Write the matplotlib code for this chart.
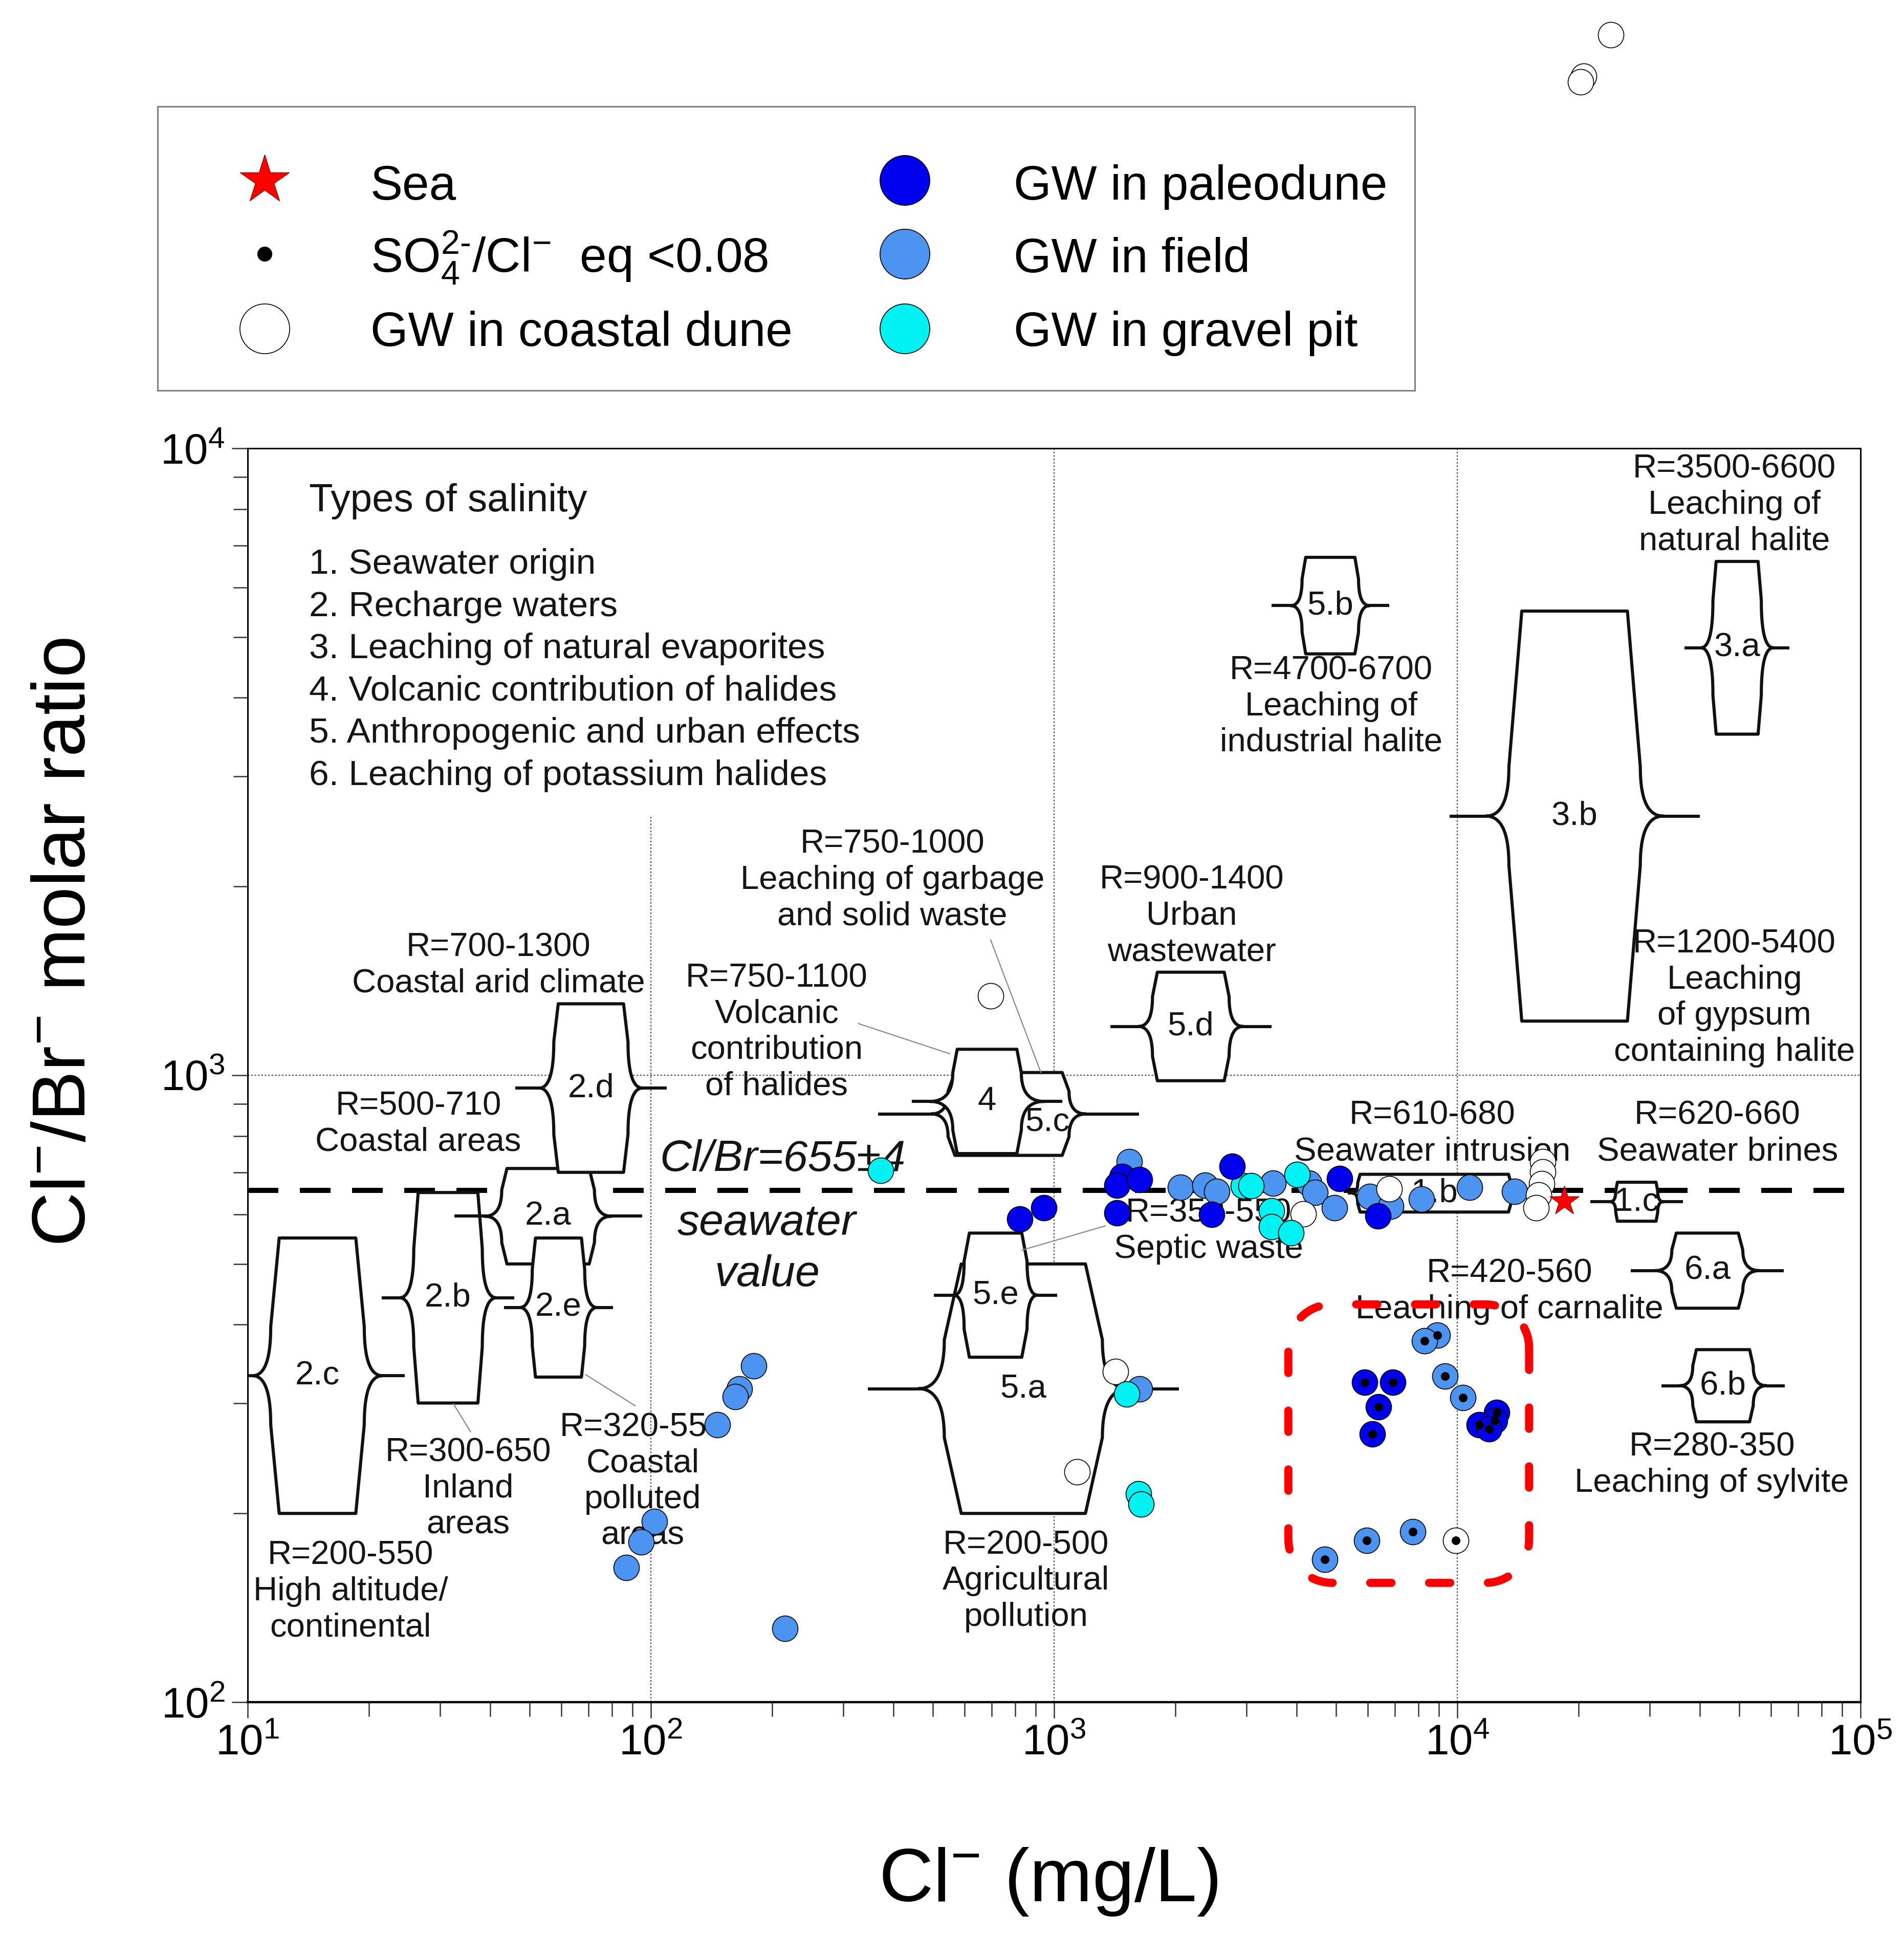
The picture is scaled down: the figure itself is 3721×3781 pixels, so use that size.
import numpy as np
import matplotlib
matplotlib.use('Agg')
import matplotlib.pyplot as plt
from matplotlib.patches import Polygon
from matplotlib.lines import Line2D
from matplotlib.ticker import FuncFormatter, NullFormatter, LogLocator

plt.rcParams['font.family'] = ['Liberation Sans', 'DejaVu Sans']
plt.rcParams['mathtext.fontset'] = 'custom'
plt.rcParams['mathtext.rm'] = 'Liberation Sans'
plt.rcParams['mathtext.it'] = 'Liberation Sans:italic'
plt.rcParams['mathtext.bf'] = 'Liberation Sans:bold'

# ---------------- data ----------------
sea_cl = [18400]
sea_r = [630]

coastal_cl = [24000, 20600, 20200, 696, 4150, 6780, 16300, 16300, 16200, 15900, 15700, 1420, 1140, 9910]
coastal_r = [45700, 39200, 38400, 1337, 601, 659, 728, 701, 671, 644, 615, 337, 233, 181]
coastal_low = [0, 0, 0, 0, 0, 0, 0, 0, 0, 0, 0, 0, 0, 1]

field_cl = [180, 166, 162, 146, 102, 94.6, 86.9, 215, 1538, 2056, 2367, 2533, 3490, 4285, 4437,
            4955, 6068, 6841, 8147, 10720, 13870, 8930, 8300, 9330, 10330, 4690, 5960, 7760, 1629]
field_r = [344, 316, 307, 277, 194, 180, 164, 131, 728, 662, 668, 653, 673, 672, 650,
           615, 641, 618, 635, 662, 653, 385, 377, 331, 306, 169, 181, 187, 316]
field_low = [0] * 21 + [1] * 7 + [0]

gravel_cl = [371, 2951, 3076, 4008, 3459, 3459, 3871, 1514, 1619, 1643]
gravel_r = [705, 666, 666, 695, 608, 573, 561, 310, 215, 207]

paleo_cl = [822, 944, 1476, 1432, 1629, 1432, 2767, 2460, 5105, 6353,
            5890, 6920, 6380, 6160, 12530, 12390, 11350, 11990]
paleo_r = [590, 615, 689, 668, 681, 603, 716, 600, 684, 596,
           324, 324, 296, 268, 290, 281, 277, 273]
paleo_low = [0] * 10 + [1] * 8

# salinity-type boxes: Cl centre (mg/L), half widths (decades), Cl/Br range
box_names = ['2.c', '2.b', '2.a', '2.e', '2.d', '5.c', '4', '5.a', '5.e', '5.d',
             '5.b', '3.b', '3.a', '1.b', '1.c', '6.a', '6.b']
box_cl = [14.9, 31.4, 55.6, 59.0, 71.0, 771, 682, 839, 716, 2183,
          4842, 19540, 49430, 8770, 27860, 41690, 45600]
box_a = [0.095, 0.074, 0.102, 0.057, 0.081, 0.133, 0.074, 0.154, 0.065, 0.083,
         0.061, 0.131, 0.052, 0.184, 0.048, 0.077, 0.066]
box_b = [0.116, 0.085, 0.115, 0.065, 0.092, 0.150, 0.085, 0.196, 0.078, 0.095,
         0.070, 0.163, 0.060, 0.190, 0.052, 0.088, 0.075]
box_e = [0.161, 0.120, 0.157, 0.096, 0.128, 0.192, 0.142, 0.260, 0.104, 0.130,
         0.098, 0.220, 0.090, 0.203, 0.066, 0.130, 0.108]
box_f = [0.216, 0.164, 0.233, 0.135, 0.188, 0.323, 0.186, 0.386, 0.153, 0.200,
         0.146, 0.310, 0.130, 0.215, 0.115, 0.190, 0.153]
box_lo = [200, 300, 500, 330, 700, 745, 750, 200, 355, 980, 4700, 1220, 3500, 605, 585, 425, 280]
box_hi = [550, 650, 710, 550, 1300, 1010, 1100, 500, 560, 1460, 6700, 5500, 6600, 695, 675, 560, 365]
box_label_at = {'5.c': (964, 842)}

ann_text = ['R=700-1300\nCoastal arid climate', 'R=500-710\nCoastal areas',
            'R=750-1000\nLeaching of garbage\nand solid waste',
            'R=750-1100\nVolcanic\ncontribution\nof halides',
            'R=900-1400\nUrban\nwastewater', 'R=4700-6700\nLeaching of\nindustrial halite',
            'R=3500-6600\nLeaching of\nnatural halite',
            'R=1200-5400\nLeaching\nof gypsum\ncontaining halite',
            'R=610-680\nSeawater intrusion', 'R=620-660\nSeawater brines',
            'R=420-560\nLeaching of carnalite', 'R=280-350\nLeaching of sylvite',
            'R=350-550\nSeptic waste', 'R=320-550\nCoastal\npolluted\nareas',
            'R=300-650\nInland\nareas', 'R=200-550\nHigh altitude/\ncontinental',
            'R=200-500\nAgricultural\npollution']
ann_cl = [41.9, 26.5, 397, 205, 2193, 4864, 48660, 48660, 8670, 44150, 13460, 42780,
          2416, 95.5, 35.2, 18.0, 851]
ann_r = [1496, 836, 2047, 1172, 1795, 3874, 8115, 1328, 807, 807, 452, 239,
         564, 225, 219, 150, 156]

leader_cl = [(696, 927), (327, 551), (32.4, 35.7), (68.9, 91.4), (832, 1340)]
leader_r = [(1644, 1011), (1209, 1082), (299, 270), (333, 297), (526, 575)]

types_title = 'Types of salinity'
types_items = ['1. Seawater origin', '2. Recharge waters', '3. Leaching of natural evaporites',
               '4. Volcanic contribution of halides', '5. Anthropogenic and urban effects',
               '6. Leaching of potassium halides']

seawater_ratio = 655
redbox_cl = (3811, 15070)
redbox_r = (155, 431)

C_PALEO = '#0000EE'
C_FIELD = '#4C94F0'
C_GRAVEL = '#00F2F2'
TXT = '#151515'

W, H = 3721, 3781
fig = plt.figure(figsize=(W / 100, H / 100), dpi=100)
ax = fig.add_axes([484 / W, 1 - 3326 / H, 3152 / W, 2450 / H])
ax.set_xscale('log')
ax.set_yscale('log')
ax.set_xlim(10, 1e5)
ax.set_ylim(100, 1e4)

# grid (dotted)
gkw = dict(color='#555555', lw=1.6, ls=(0, (1.5, 1.5)), zorder=1)
ax.vlines(100, 100, 2600, **gkw)
ax.axvline(1000, **gkw)
ax.axvline(1e4, **gkw)
ax.axhline(1000, **gkw)

# seawater line
ax.axhline(seawater_ratio, color='black', lw=7.2, dashes=(6, 4.2), zorder=2)


def brace_box(c_cl, a, b, e, f, lo, hi, z, lw=4.4):
    c = np.log10(c_cl)
    y0, y1 = np.log10(lo), np.log10(hi)
    ym = 0.5 * (y0 + y1)
    hh = 0.5 * (y1 - y0)
    r = min(0.078, 0.55 * hh)
    t = np.linspace(0, 1, 30)[:, None]

    def qb(p0, p1, p2):
        p0, p1, p2 = map(np.asarray, (p0, p1, p2))
        return (1 - t) ** 2 * p0 + 2 * (1 - t) * t * p1 + t ** 2 * p2

    right = np.vstack([[c + a, y1],
                       qb([c + b, ym + r], [c + b, ym], [c + e, ym]),
                       qb([c + e, ym], [c + b, ym], [c + b, ym - r]),
                       [c + a, y0]])
    left = np.vstack([[c - a, y0],
                      qb([c - b, ym - r], [c - b, ym], [c - e, ym]),
                      qb([c - e, ym], [c - b, ym], [c - b, ym + r]),
                      [c - a, y1]])
    pts = np.vstack([right, left])
    ax.add_patch(Polygon(10 ** pts, closed=True, fc='white', ec='#111111', lw=lw,
                         zorder=z, joinstyle='round'))
    for s in (1, -1):
        ax.plot(10 ** np.array([c + s * e, c + s * f]), [10 ** ym] * 2, color='#111111',
                lw=lw, zorder=z, solid_capstyle='butt')
    return 10 ** c, 10 ** ym


for i, name in enumerate(box_names):
    z = 3 + i * 0.01
    cx, cy = brace_box(box_cl[i], box_a[i], box_b[i], box_e[i], box_f[i],
                       box_lo[i], box_hi[i], z)
    if name in box_label_at:
        cx, cy = box_label_at[name]
    ax.text(cx, cy, name, fontsize=47, ha='center', va='center', color=TXT,
            zorder=z + 0.005)

# annotation texts
for txt, x, y in zip(ann_text, ann_cl, ann_r):
    ax.text(x, y, txt, fontsize=47, ha='center', va='center', linespacing=1.22,
            color=TXT, zorder=5)
for xs, ys in zip(leader_cl, leader_r):
    ax.plot(xs, ys, color='#8a8a8a', lw=1.6, zorder=5)

# types of salinity
ax.text(14.2, 7943, types_title, fontsize=55, ha='left', va='baseline', color=TXT, zorder=5)
for k, item in enumerate(types_items):
    yy = 10 ** (np.log10(6310) - k * 0.0674)
    ax.text(14.2, yy, item, fontsize=50, ha='left', va='baseline', color=TXT, zorder=5)

ax.text(212, 733, 'Cl/Br=655±4', fontsize=62, style='italic', ha='center', va='center',
        color=TXT, zorder=5)
ax.text(194, 528, 'seawater\nvalue', fontsize=62, style='italic', ha='center', va='center',
        linespacing=1.32, color=TXT, zorder=5)

# data points
S = 1296
ekw = dict(edgecolors='black', linewidths=1.2, clip_on=False)
ax.scatter(field_cl, field_r, s=S, c=C_FIELD, zorder=6, **ekw)
ax.scatter(coastal_cl, coastal_r, s=S, c='white', zorder=6.1, **ekw)
ax.scatter(gravel_cl, gravel_r, s=S, c=C_GRAVEL, zorder=6.2, **ekw)
ax.scatter(paleo_cl, paleo_r, s=S, c=C_PALEO, zorder=6.3, **ekw)
for xs, ys, fl in ((field_cl, field_r, field_low), (coastal_cl, coastal_r, coastal_low),
                   (paleo_cl, paleo_r, paleo_low)):
    sel = np.array(fl, dtype=bool)
    ax.scatter(np.array(xs)[sel], np.array(ys)[sel], s=150, c='black', marker='o',
               zorder=7, linewidths=0)
ax.scatter(sea_cl, sea_r, s=1850, marker='*', c='red', edgecolors='#990000',
           linewidths=1, zorder=7.5)

# red rounded box (in log space)
lx0, lx1 = np.log10(redbox_cl)
ly0, ly1 = np.log10(redbox_r)
rx, ry = 85 / 788, 85 / 1225
th = np.linspace(0, np.pi / 2, 20)
corners = [(lx1 - rx, ly1 - ry, 0), (lx0 + rx, ly1 - ry, np.pi / 2),
           (lx0 + rx, ly0 + ry, np.pi), (lx1 - rx, ly0 + ry, 1.5 * np.pi)]
px, py = [], []
for cxl, cyl, a0 in corners:
    px.extend(cxl + rx * np.cos(a0 + th))
    py.extend(cyl + ry * np.sin(a0 + th))
px.append(px[0]); py.append(py[0])
ax.plot(10 ** np.array(px), 10 ** np.array(py), color='red', lw=11.5,
        dashes=(2.6, 4.6), dash_capstyle='round', zorder=8)

# axes styling
for sp in ax.spines.values():
    sp.set_linewidth(2.2)
    sp.set_zorder(9)
ax.spines['bottom'].set_linewidth(3.2)
fmt = FuncFormatter(lambda v, p: r'$\mathregular{10^{%d}}$' % int(round(np.log10(v))))
ax.xaxis.set_major_formatter(fmt)
ax.yaxis.set_major_formatter(fmt)
ax.xaxis.set_minor_formatter(NullFormatter())
ax.yaxis.set_minor_formatter(NullFormatter())
ax.xaxis.set_minor_locator(LogLocator(base=10, subs=np.arange(2, 10)))
ax.yaxis.set_minor_locator(LogLocator(base=10, subs=np.arange(2, 10)))
ax.tick_params(which='both', direction='out', top=False, right=False, width=1.8,
               labelsize=60, color='#333333')
ax.tick_params(which='major', length=22)
ax.tick_params(which='minor', length=20)
ax.tick_params(axis='x', pad=8)
ax.tick_params(axis='y', pad=10)

fig.text(2049 / W, 1 - 3715 / H, r'Cl$^{-}$ (mg/L)', fontsize=106, ha='center', va='baseline')
fig.text(166 / W, 1 - 1841 / H, r'Cl$^{-}$/Br$^{-}$ molar ratio', fontsize=106, rotation=90,
         ha='center', va='baseline', rotation_mode='anchor')

# legend panel
lax = fig.add_axes([308 / W, 1 - 763 / H, (2765 - 308) / W, (763 - 208) / H])
lax.set_xlim(0, 1)
lax.set_ylim(0, 1)
lax.set_xticks([])
lax.set_yticks([])
for sp in lax.spines.values():
    sp.set_color('#808080')
    sp.set_linewidth(2.2)
mx1, tx1, mx2, tx2 = 0.0851, 0.1693, 0.5942, 0.6809
rows_m = [0.7405, 0.4811, 0.2180]
rows_t = [0.672, 0.416, 0.157]
lax.add_line(Line2D([mx1], [rows_m[0]], marker='*', ms=72, mfc='red', mec='#990000', mew=1, ls='none'))
lax.add_line(Line2D([mx1], [rows_m[1]], marker='o', ms=20, mfc='black', mec='black', ls='none'))
lax.add_line(Line2D([mx1], [rows_m[2]], marker='o', ms=70, mfc='white', mec='black', mew=1.2, ls='none'))
lax.add_line(Line2D([mx2], [rows_m[0]], marker='o', ms=70, mfc=C_PALEO, mec='black', mew=1.2, ls='none'))
lax.add_line(Line2D([mx2], [rows_m[1]], marker='o', ms=70, mfc=C_FIELD, mec='black', mew=1.2, ls='none'))
lax.add_line(Line2D([mx2], [rows_m[2]], marker='o', ms=70, mfc=C_GRAVEL, mec='black', mew=1.2, ls='none'))
labels1 = ['Sea', r'SO$_4^{2\text{-}}$/Cl$^{-}$  eq <0.08', 'GW in coastal dune']
labels2 = ['GW in paleodune', 'GW in field', 'GW in gravel pit']
for k in range(3):
    lax.text(tx1, rows_t[k], labels1[k], fontsize=68, ha='left', va='baseline')
    lax.text(tx2, rows_t[k], labels2[k], fontsize=68, ha='left', va='baseline')

fig.savefig('out.png', dpi=100)
